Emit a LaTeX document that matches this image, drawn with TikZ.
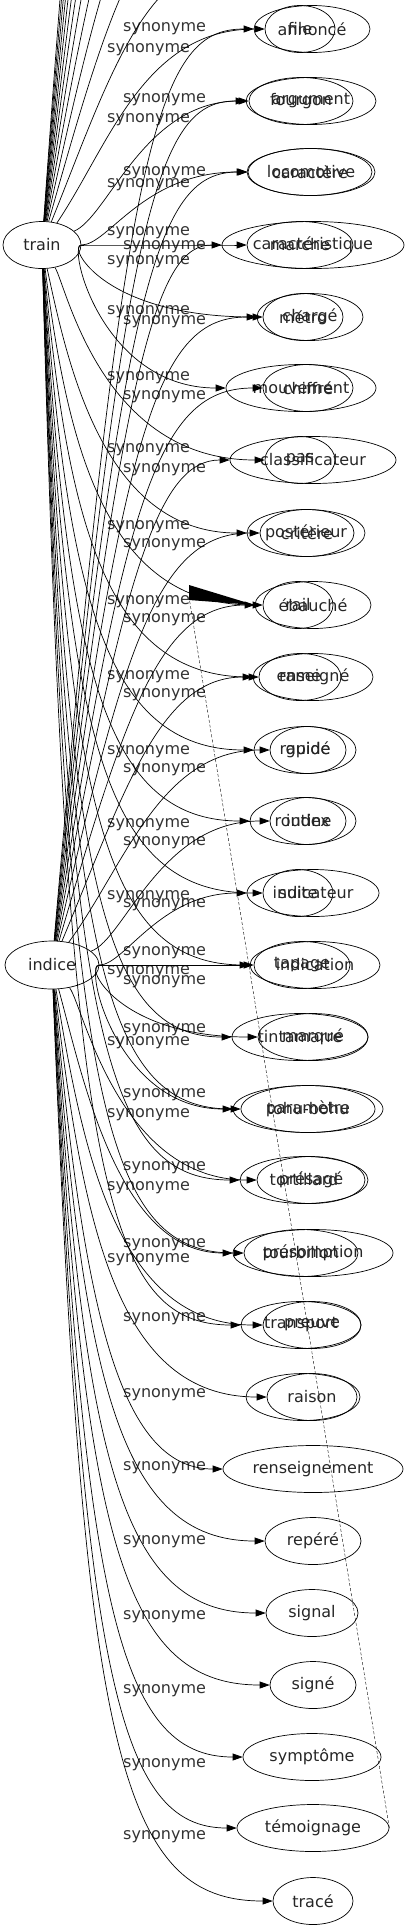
\documentclass[tikz,border=0pt]{standalone}
\usepackage{fontspec}
\setmainfont{DejaVu Sans}
\usepackage{tikz}
\usetikzlibrary{shapes,arrows.meta,calc}
\newcommand{\wordfont}{\fontsize{16}{19}\selectfont}
\tikzstyle{word} = [draw, ellipse, inner sep=0pt, minimum height=47pt, line width=0.7pt, font=\wordfont, text=black!85]
\tikzstyle{lbl} = [anchor=west, inner sep=0pt, font=\wordfont, text=black!80]
\tikzstyle{line} = [draw, line width=0.7pt, -{Triangle[length=10pt,width=7pt]}]
\tikzstyle{trail} = [draw, line width=0.4pt, dash pattern=on 3pt off 2pt]
% edge: source, point beside its label, target
\newcommand{\syn}[3]{%
  \path [line] let \p1=(#1), \p2=(#2), \p3=(#3),
    \n1={max(-90,min(90,\y1-\y2))} in
    (#1) .. controls ({\x2-40},{\y2+\n1}) and ({\x2-5},{\y3}) .. (#3);}

\begin{document}
\begin{tikzpicture}[x=1pt, y=-1pt]
    \useasboundingbox (0,0) rectangle (409,1931);
    \clip (0,0) rectangle (409,1931);

    % Place nodes
    \node [word, minimum width=78pt] (train) at (42,245) {train};
    \node [word, minimum width=94pt, minimum height=48pt] (indice) at (52,965) {indice};

    \node [word, minimum width=70pt] (file) at (300,29) {file};
    \node [word, minimum width=116pt] (annonce) at (312,29) {annoncé};
    \node [word, minimum width=104pt] (fourgon) at (301,101) {fourgon};
    \node [word, minimum width=130pt] (argument) at (311,101) {argument};
    \node [word, minimum width=128pt] (locomotive) at (311,172) {locomotive};
    \node [word, minimum width=124pt] (caractere) at (310,172) {caractère};
    \node [word, minimum width=106pt] (marche) at (300,245) {marche};
    \node [word, minimum width=182pt] (caracteristique) at (313,245) {caractéristique};
    \node [word, minimum width=80pt] (metro) at (303,317) {métro};
    \node [word, minimum width=106pt] (charge) at (310,317) {chargé};
    \node [word, minimum width=150pt] (mouvement) at (301,388) {mouvement};
    \node [word, minimum width=90pt] (chiffre) at (308,388) {chiffré};
    \node [word, minimum width=70pt] (pas) at (300,460) {pas};
    \node [word, minimum width=166pt] (classificateur) at (313,460) {classificateur};
    \node [word, minimum width=118pt] (posterieur) at (306,533) {postérieur};
    \node [word, minimum width=94pt] (critere) at (307,533) {critère};
    \node [word, minimum width=70pt] (rail) at (298,605) {rail};
    \node [word, minimum width=116pt] (ebauche) at (313,605) {ébauché};
    \node [word, minimum width=82pt] (rame) at (300,677) {rame};
    \node [word, minimum width=120pt] (enseigne) at (313,677) {enseigné};
    \node [word, minimum width=102pt] (rapide) at (305,750) {rapide};
    \node [word, minimum width=76pt] (guide) at (308,750) {guidé};
    \node [word, minimum width=106pt] (routine) at (303,821) {routine};
    \node [word, minimum width=76pt] (index) at (308,821) {index};
    \node [word, minimum width=70pt] (suite) at (298,893) {suite};
    \node [word, minimum width=132pt] (indicateur) at (313,893) {indicateur};
    \node [word, minimum width=96pt] (tapage) at (302,965) {tapage};
    \node [word, minimum width=130pt] (indication) at (315,965) {indication};
    \node [word, minimum width=136pt] (tintamarre) at (300,1037) {tintamarre};
    \node [word, minimum width=110pt] (marque) at (313,1037) {marqué};
    \node [word, minimum width=134pt] (tohubohu) at (308,1109) {tohu-bohu};
    \node [word, minimum width=150pt] (parametre) at (308,1109) {paramètre};
    \node [word, minimum width=128pt] (tortillard) at (304,1180) {tortillard};
    \node [word, minimum width=108pt] (presage) at (311,1180) {présagé};
    \node [word, minimum width=114pt] (tourbillon) at (301,1253) {tourbillon};
    \node [word, minimum width=160pt] (presomption) at (313,1253) {présomption};
    \node [word, minimum width=120pt] (transport) at (301,1325) {transport};
    \node [word, minimum width=98pt] (preuve) at (312,1325) {preuve};
    \node [word, minimum width=114pt] (blank) at (303,1397) {};
    \node [word, minimum width=90pt] (raison) at (312,1397) {raison};
    \node [word, minimum width=180pt] (renseignement) at (313,1469) {renseignement};
    \node [word, minimum width=96pt] (repere) at (313,1541) {repéré};
    \node [word, minimum width=92pt] (signal) at (312,1613) {signal};
    \node [word, minimum width=86pt] (signe) at (313,1685) {signé};
    \node [word, minimum width=138pt] (symptome) at (312,1757) {symptôme};
    \node [word, minimum width=152pt] (temoignage) at (313,1828) {témoignage};
    \node [word, minimum width=80pt] (trace) at (313,1901) {tracé};

    % edge labels
    \foreach \k/\v in {1/50, 2/120, 3/185, 4/233, 5/262, 6/312, 7/378, 8/450, 9/527, 10/602,
        11/677, 12/752, 13/825, 14/897, 15/972, 16/1043, 17/1115, 18/1188, 19/1260}
        \node [lbl] (lt\k) at (107,\v) {synonyme};
    \foreach \k/\v in {1/29, 2/100, 3/173, 4/247, 5/322, 6/397, 7/470, 8/545, 9/620, 10/695,
        11/770, 12/843, 13/905, 14/953, 15/982, 16/1030, 17/1095, 18/1168, 19/1245, 20/1319,
        21/1395, 22/1468, 23/1542, 24/1617, 25/1691, 26/1765, 27/1837}
        \node [lbl] (li\k) at (123,\v) {synonyme};

    % Draw edges
    \foreach \k in {1,...,12} {
        \coordinate (up\k) at (255,{29-72*\k});
        \coordinate (upl\k) at (150,{58-72*\k});
        \syn{train}{upl\k}{up\k}
    }
    \foreach \k/\w in {1/file, 2/fourgon, 3/locomotive, 4/marche}
        {\syn{train}{lt\k.south}{\w}}
    \foreach \k/\w in {5/metro, 6/mouvement, 7/pas, 8/posterieur, 9/rail, 10/rame, 11/rapide,
        12/routine, 13/suite, 14/tapage, 15/tintamarre, 16/tohubohu, 17/tortillard,
        18/tourbillon, 19/transport}
        {\syn{train}{lt\k.west}{\w}}
    \foreach \k/\w in {1/annonce, 2/argument, 3/caractere, 4/caracteristique, 5/charge,
        6/chiffre, 7/classificateur, 8/critere, 9/ebauche, 10/enseigne, 11/guide,
        12/index, 13/indicateur, 14/indication}
        {\syn{indice}{li\k.south}{\w}}
    \foreach \k/\w in {15/marque, 16/parametre, 17/presage, 18/presomption, 19/preuve,
        20/raison, 21/renseignement, 22/repere, 23/signal, 24/signe, 25/symptome,
        26/temoignage, 27/trace}
        {\syn{indice}{li\k.west}{\w}}

    \coordinate (tail) at (189,597);
    \path [trail] (temoignage.east) -- (tail);
    \fill (tail) -- (189,585) -- (ebauche.west) -- (189,600) -- cycle;
\end{tikzpicture}
\end{document}
